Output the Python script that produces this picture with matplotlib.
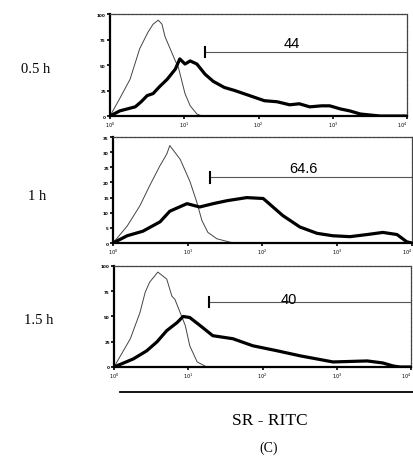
import numpy as np
import matplotlib
matplotlib.use("Agg")
import matplotlib.pyplot as plt

# fluorescence in log decades (10^0 .. 10^4), counts per channel
time_labels = ["0.5 h", "1 h", "1.5 h"]
gate_values = ["44", "64.6", "40"]
gate_start = [1.28, 1.30, 1.28]
y_max = [100, 35, 100]
y_step = [25, 5, 25]

ctrl_x_05 = [0.0, 0.13, 0.27, 0.40, 0.51, 0.58, 0.65, 0.70, 0.74, 0.81, 0.88, 0.92, 1.01, 1.08, 1.17, 1.24, 4.0]
ctrl_y_05 = [0, 17, 36, 66, 82, 90, 94, 90, 78, 66, 54, 48, 22, 10, 2, 0, 0]
sr_x_05 = [0.0, 0.13, 0.34, 0.42, 0.50, 0.58, 0.67, 0.77, 0.88, 0.94, 1.01, 1.08, 1.17, 1.28, 1.39,
           1.54, 1.68, 1.80, 1.88, 2.00, 2.08, 2.25, 2.42, 2.55, 2.69, 2.85, 2.96, 3.10, 3.23, 3.37, 3.50, 3.64, 4.0]
sr_y_05 = [0, 5, 9, 14, 20, 22, 29, 36, 46, 56, 51, 54, 51, 41, 34,
           28, 25, 22, 20, 17, 15, 14, 11, 12, 9, 10, 10, 7, 5, 2, 1, 0, 0]

ctrl_x_1 = [0.0, 0.19, 0.36, 0.49, 0.63, 0.72, 0.76, 0.90, 1.03, 1.12, 1.19, 1.27, 1.39, 1.61, 4.0]
ctrl_y_1 = [0, 5.6, 12.3, 18.9, 25.6, 29.4, 32.2, 27.6, 20.3, 13.6, 7.4, 3.5, 1.4, 0, 0]
sr_x_1 = [0.0, 0.19, 0.40, 0.63, 0.76, 0.99, 1.16, 1.34, 1.53, 1.79, 2.01, 2.14, 2.27,
          2.50, 2.73, 2.94, 3.17, 3.40, 3.61, 3.80, 3.93, 4.0]
sr_y_1 = [0, 2.4, 3.9, 7.0, 10.5, 13.0, 11.9, 13.0, 14.0, 15.0, 14.7, 11.9, 9.1,
          5.3, 3.2, 2.4, 2.1, 2.8, 3.5, 2.8, 0.4, 0]

ctrl_x_15 = [0.0, 0.22, 0.35, 0.42, 0.48, 0.59, 0.71, 0.78, 0.82, 0.89, 0.96, 1.02, 1.12, 1.25, 4.0]
ctrl_y_15 = [0, 28, 54, 74, 84, 94, 87, 70, 67, 54, 41, 21, 5, 0, 0]
sr_x_15 = [0.0, 0.26, 0.44, 0.58, 0.71, 0.85, 0.93, 1.02, 1.16, 1.33, 1.60, 1.87, 2.20,
           2.51, 2.73, 2.95, 3.41, 3.62, 3.76, 3.85, 4.0]
sr_y_15 = [0, 8, 16, 25, 36, 44, 50, 49, 41, 31, 28, 21, 16,
           11, 8, 5, 6, 4, 1, 0, 0]

ctrl_x = [ctrl_x_05, ctrl_x_1, ctrl_x_15]
ctrl_y = [ctrl_y_05, ctrl_y_1, ctrl_y_15]
sr_x = [sr_x_05, sr_x_1, sr_x_15]
sr_y = [sr_y_05, sr_y_1, sr_y_15]

# axes boxes [left, bottom, width, height] in figure fractions
boxes = [[0.2657, 0.7478, 0.7174, 0.2198],
         [0.2729, 0.4741, 0.7222, 0.2284],
         [0.2754, 0.2069, 0.7174, 0.2177]]

fig = plt.figure(figsize=(4.14, 4.64), dpi=100)
serif = "Liberation Serif"

for i in range(3):
    ax = fig.add_axes(boxes[i])
    ax.plot(ctrl_x[i], ctrl_y[i], color="#444444", lw=0.7)
    ax.plot(sr_x[i], sr_y[i], color="black", lw=2.3, solid_joinstyle="round")
    ax.set_xlim(0, 4)
    ax.set_ylim(0, y_max[i])

    ax.set_xticks([0, 1, 2, 3, 4])
    xl = ax.set_xticklabels(["$10^{%d}$" % k for k in range(5)], fontsize=3.5, fontweight="bold")
    xl[-1].set_ha("right")
    ax.set_yticks(np.arange(0, y_max[i] + 1, y_step[i]))
    ax.set_yticklabels([str(v) for v in np.arange(0, y_max[i] + 1, y_step[i])],
                       fontsize=3, fontweight="bold")
    ax.tick_params(length=2, width=1.2, pad=1)

    for s in ["left", "bottom"]:
        ax.spines[s].set_linewidth(1.6)
    for s in ["top", "right"]:
        ax.spines[s].set_linewidth(0.9)
        ax.spines[s].set_color("#444444")
        ax.spines[s].set_linestyle((0, (3, 0.6)))

    # gate marker
    gy = [0.63, 0.62, 0.64][i]
    ax.plot([gate_start[i], 4.0], [gy * y_max[i]] * 2, color="#555555", lw=0.8)
    ax.plot([gate_start[i]] * 2, [(gy - 0.05) * y_max[i], (gy + 0.05) * y_max[i]],
            color="black", lw=1.5)
    tx = [2.45, 2.55, 2.35][i]
    if i == 2:
        ax.text(tx, (gy + 0.03) * y_max[i], gate_values[i], fontsize=10.5, ha="center",
                va="center", family="Liberation Sans")
    else:
        ax.text(tx, (gy + 0.02) * y_max[i], gate_values[i], fontsize=10.5, ha="center",
                va="bottom", family="Liberation Sans")

    yc = boxes[i][1] + boxes[i][3] * [0.47, 0.45, 0.47][i]
    fig.text([0.085, 0.09, 0.093][i], yc, time_labels[i], fontsize=10.5, family=serif,
             ha="center", va="center")

fig.add_artist(plt.Line2D([0.29, 1.0], [1 - 393 / 464] * 2, color="black", lw=1.3))
fig.text(0.652, 1 - 421 / 464, "SR - RITC", fontsize=12.5, family=serif, ha="center", va="center")
fig.text(0.65, 1 - 448 / 464, "(C)", fontsize=10, family=serif, ha="center", va="center")

fig.savefig("out.png", dpi=100)
